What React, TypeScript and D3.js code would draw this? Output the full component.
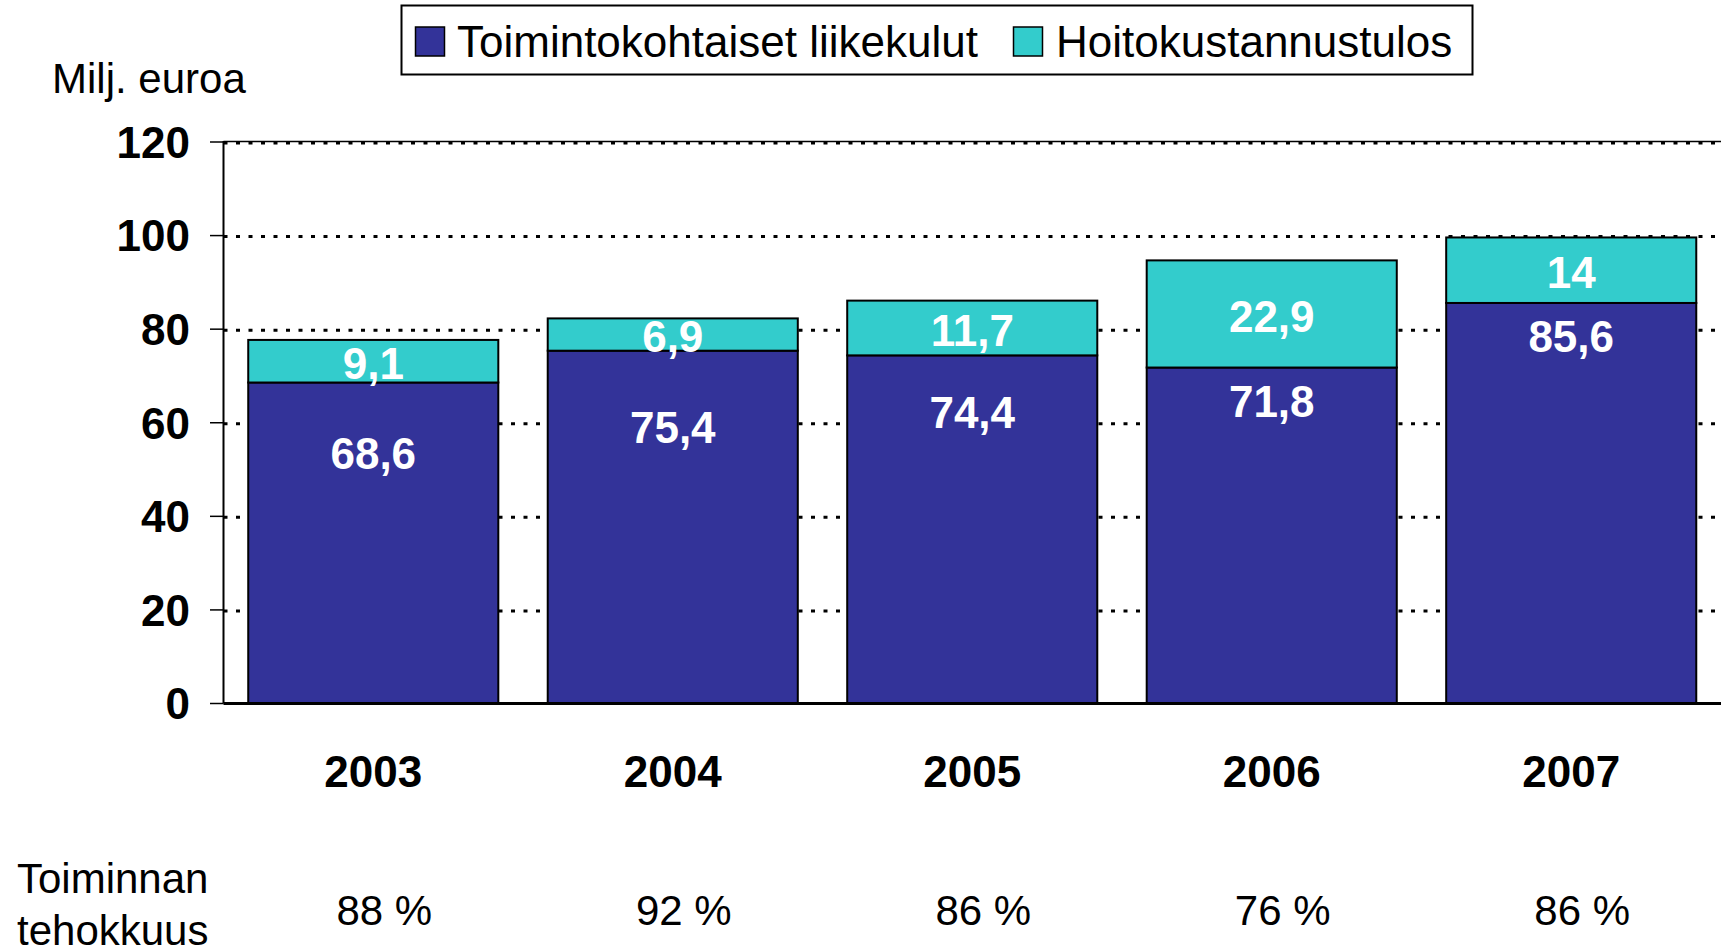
import React, { useEffect, useRef } from 'react';
import * as d3 from 'd3';

// years and series
const years = ['2003', '2004', '2005', '2006', '2007'];
const operatingCosts = [68.6, 75.4, 74.4, 71.8, 85.6]; // Toimintokohtaiset liikekulut
const careResult = [9.1, 6.9, 11.7, 22.9, 14]; // Hoitokustannustulos
const efficiency = ['88 %', '92 %', '86 %', '76 %', '86 %'];
const yTicks = [0, 20, 40, 60, 80, 100, 120];
// where the white labels inside the blue bars sit (in axis units)
const innerLabelAt = [53.5, 59.0, 62.3, 64.6, 78.5];

const fmt = (v: number) => String(v).replace('.', ',');

const W = 1721;
const H = 948;
const FONT = '"Liberation Sans", Arial, sans-serif';
const BLUE = '#333399';
const TEAL = '#33CCCC';

const App = () => {
  const svgRef = useRef<SVGSVGElement>(null);

  useEffect(() => {
    const svg = d3.select(svgRef.current);
    svg.selectAll('*').remove();

    const left = 223.5;
    const x = d3.scaleBand().domain(years).range([left, W]).paddingInner(0.165).paddingOuter(0.0826);
    const y = d3.scaleLinear().domain([0, 120]).range([703.5, 142]);

    const rows = years.map((yr, i) => ({ year: yr, ops: operatingCosts[i], care: careResult[i] }));
    const stacked = d3.stack<any>().keys(['ops', 'care'])(rows);

    // gridlines
    svg.append('g')
      .selectAll('line')
      .data(yTicks.filter((t) => t > 0))
      .join('line')
      .attr('x1', left)
      .attr('x2', W)
      .attr('y1', (d) => y(d) + 1)
      .attr('y2', (d) => y(d) + 1)
      .attr('stroke', '#000')
      .attr('stroke-width', 3)
      .attr('stroke-dasharray', '4,8.5');

    // top border of plot area
    svg.append('line')
      .attr('x1', left).attr('x2', W)
      .attr('y1', y(120) - 0.5).attr('y2', y(120) - 0.5)
      .attr('stroke', '#000').attr('stroke-width', 1.5);

    // bars
    const colors = [BLUE, TEAL];
    stacked.forEach((layer, li) => {
      svg.append('g')
        .selectAll('rect')
        .data(layer)
        .join('rect')
        .attr('x', (d: any) => x(d.data.year)!)
        .attr('y', (d) => y(d[1]))
        .attr('width', x.bandwidth())
        .attr('height', (d) => y(d[0]) - y(d[1]))
        .attr('fill', colors[li])
        .attr('stroke', '#000')
        .attr('stroke-width', 2);
    });

    // y axis
    svg.append('line')
      .attr('x1', left).attr('x2', left)
      .attr('y1', y(120) - 1).attr('y2', y(0))
      .attr('stroke', '#000').attr('stroke-width', 2);
    svg.append('line')
      .attr('x1', left).attr('x2', W)
      .attr('y1', y(0)).attr('y2', y(0))
      .attr('stroke', '#000').attr('stroke-width', 3);

    const ticks = svg.append('g');
    ticks.selectAll('line')
      .data(yTicks)
      .join('line')
      .attr('x1', 210).attr('x2', left)
      .attr('y1', (d) => y(d)).attr('y2', (d) => y(d))
      .attr('stroke', '#000').attr('stroke-width', 1.5);
    ticks.selectAll('text')
      .data(yTicks)
      .join('text')
      .attr('x', 190)
      .attr('y', (d) => y(d))
      .attr('dy', '0.36em')
      .attr('text-anchor', 'end')
      .attr('font-family', FONT)
      .attr('font-weight', 'bold')
      .attr('font-size', 44)
      .text((d) => d);

    // value labels
    const labels = svg.append('g')
      .attr('font-family', FONT)
      .attr('font-weight', 'bold')
      .attr('font-size', 44)
      .attr('fill', '#fff')
      .attr('text-anchor', 'middle');
    labels.selectAll('text.ops')
      .data(rows)
      .join('text')
      .attr('class', 'ops')
      .attr('x', (d) => x(d.year)! + x.bandwidth() / 2)
      .attr('y', (d, i) => y(innerLabelAt[i]))
      .attr('dy', '0.36em')
      .text((d) => fmt(d.ops));
    labels.selectAll('text.care')
      .data(rows)
      .join('text')
      .attr('class', 'care')
      .attr('x', (d) => x(d.year)! + x.bandwidth() / 2)
      .attr('y', (d) => y(d.ops + d.care / 2) + 2)
      .attr('dy', '0.36em')
      .text((d) => fmt(d.care));

    // year labels
    svg.append('g')
      .selectAll('text')
      .data(years)
      .join('text')
      .attr('x', (d) => x(d)! + x.bandwidth() / 2)
      .attr('y', 787)
      .attr('text-anchor', 'middle')
      .attr('font-family', FONT)
      .attr('font-weight', 'bold')
      .attr('font-size', 44)
      .text((d) => d);

    // efficiency row
    svg.append('g')
      .selectAll('text')
      .data(efficiency)
      .join('text')
      .attr('x', (d, i) => x(years[i])! + x.bandwidth() / 2 + 11)
      .attr('y', 925)
      .attr('text-anchor', 'middle')
      .attr('font-family', FONT)
      .attr('font-size', 42)
      .text((d) => d);

    const rowTitle = svg.append('text')
      .attr('font-family', FONT)
      .attr('font-size', 42);
    rowTitle.append('tspan').attr('x', 17).attr('y', 893).text('Toiminnan');
    rowTitle.append('tspan').attr('x', 17).attr('y', 945).text('tehokkuus');

    svg.append('text')
      .attr('x', 52)
      .attr('y', 93)
      .attr('font-family', FONT)
      .attr('font-size', 42)
      .text('Milj. euroa');

    // legend
    const legend = svg.append('g');
    legend.append('rect')
      .attr('x', 401.5).attr('y', 5.5)
      .attr('width', 1071).attr('height', 69)
      .attr('fill', '#fff').attr('stroke', '#000').attr('stroke-width', 2);
    const items = [
      { label: 'Toimintokohtaiset liikekulut', color: BLUE, sx: 415.5, tx: 457 },
      { label: 'Hoitokustannustulos', color: TEAL, sx: 1013.5, tx: 1056 },
    ];
    items.forEach((it) => {
      legend.append('rect')
        .attr('x', it.sx).attr('y', 27)
        .attr('width', 29).attr('height', 29)
        .attr('fill', it.color).attr('stroke', '#000').attr('stroke-width', 1.5);
      legend.append('text')
        .attr('x', it.tx).attr('y', 57)
        .attr('font-family', FONT)
        .attr('font-size', 44)
        .text(it.label);
    });
  }, []);

  return (
    <svg
      ref={svgRef}
      width={W}
      height={H}
      style={{ position: 'absolute', left: 0, top: 0, background: '#fff' }}
    ></svg>
  );
};

export default App;
